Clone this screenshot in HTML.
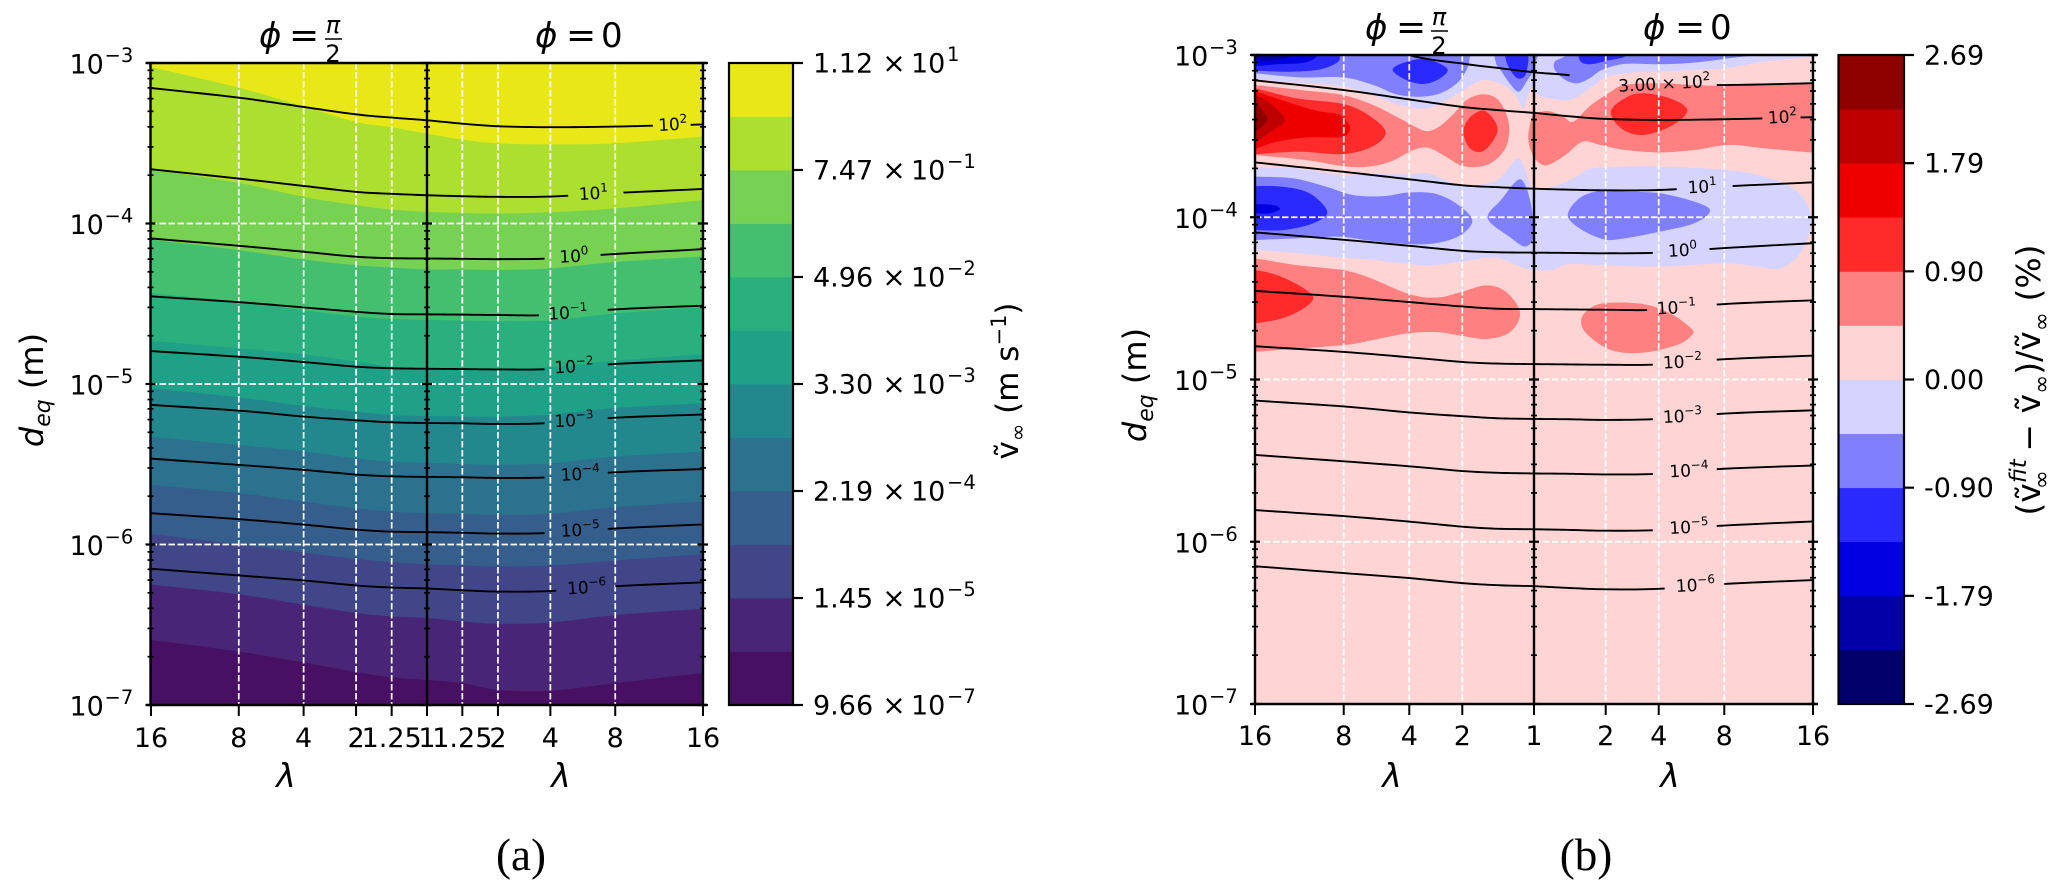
<!DOCTYPE html>
<html>
<head>
<meta charset="utf-8">
<title>Terminal velocity contour charts</title>
<style>
html,body{margin:0;padding:0;background:#fff;width:2067px;height:894px;overflow:hidden}
svg{position:absolute;left:0;top:0;font-family:"DejaVu Sans","Liberation Sans",sans-serif}
text{fill:#000}
</style>
</head>
<body>
<svg id="fig" xmlns="http://www.w3.org/2000/svg" width="2067" height="894" viewBox="0 0 2067 894">
  <rect x="0" y="0" width="2067" height="894" fill="#fff"/>
  <g id="panelA"></g>
  <g id="panelB"></g>

  <g>
    <text x="259" y="47" font-size="34" font-style="italic">ϕ</text>
    <text x="289" y="47" font-size="36">=</text>
    <text x="333" y="33" font-size="24" font-style="italic" text-anchor="middle">π</text>
    <line x1="325" x2="342" y1="39" y2="39" stroke="#000" stroke-width="1.6"/>
    <text x="333" y="62" font-size="24" text-anchor="middle">2</text>
  </g>
  <g>
    <text x="535" y="47" font-size="34" font-style="italic">ϕ</text>
    <text x="566" y="47" font-size="36">=</text>
    <text x="601" y="47" font-size="34">0</text>
  </g>
  <g>
    <text x="1365" y="39" font-size="34" font-style="italic">ϕ</text>
    <text x="1396" y="39" font-size="36">=</text>
    <text x="1439" y="25" font-size="24" font-style="italic" text-anchor="middle">π</text>
    <line x1="1431" x2="1448" y1="31" y2="31" stroke="#000" stroke-width="1.6"/>
    <text x="1439" y="54" font-size="24" text-anchor="middle">2</text>
  </g>
  <g>
    <text x="1643" y="39" font-size="34" font-style="italic">ϕ</text>
    <text x="1675" y="39" font-size="36">=</text>
    <text x="1710" y="39" font-size="34">0</text>
  </g>

  <text x="286" y="787" font-size="33" font-style="italic" text-anchor="middle">λ</text>
  <text x="561" y="787" font-size="33" font-style="italic" text-anchor="middle">λ</text>
  <text x="1392" y="787" font-size="33" font-style="italic" text-anchor="middle">λ</text>
  <text x="1670" y="787" font-size="33" font-style="italic" text-anchor="middle">λ</text>

  <text transform="translate(43,390) rotate(-90)" font-size="32" text-anchor="middle"><tspan font-style="italic">d</tspan><tspan font-style="italic" font-size="22" dy="7">eq</tspan><tspan dy="-7"> (m)</tspan></text>
  <text transform="translate(1146,385) rotate(-90)" font-size="32" text-anchor="middle"><tspan font-style="italic">d</tspan><tspan font-style="italic" font-size="22" dy="7">eq</tspan><tspan dy="-7"> (m)</tspan></text>

  <text transform="translate(1018,381) rotate(-90)" font-size="31" text-anchor="middle">ṽ<tspan font-size="21" dy="7">∞</tspan><tspan dy="-7"> (m s</tspan><tspan font-size="21" dy="-12">−1</tspan><tspan dy="12">)</tspan></text>
  <text transform="translate(2040,380) rotate(-90)" font-size="33" text-anchor="middle">(ṽ<tspan font-size="23" font-style="italic" dy="-14">fit</tspan><tspan font-size="23" dy="23" dx="-30">∞</tspan><tspan dy="-9" dx="8"> − ṽ</tspan><tspan font-size="23" dy="9">∞</tspan><tspan dy="-9">)/ṽ</tspan><tspan font-size="23" dy="9">∞</tspan><tspan dy="-9"> (%)</tspan></text>

  <text x="521" y="870" font-size="45" text-anchor="middle" style="font-family:'Liberation Serif',serif">(a)</text>
  <text x="1586" y="870" font-size="45" text-anchor="middle" style="font-family:'Liberation Serif',serif">(b)</text>
</svg>

<script>
/* ---------- shared axis data ---------- */
const lambdaTicksA = [-16, -8, -4, -2, -1.25, 1, 1.25, 2, 4, 8, 16];
const lambdaTicksB = [-16, -8, -4, -2, 1, 2, 4, 8, 16];
const yTickExponents = [-3, -4, -5, -6, -7];
const lineSamples = [-16, -8, -4, -2, -1.25, 1, 1.25, 2, 4, 8, 16];

/* iso-lines (log10 d_eq at each lambda sample) */
const line1e2 = [-3.156, -3.216, -3.274, -3.32, -3.34, -3.357, -3.378, -3.394, -3.4, -3.396, -3.383];
const line1e1 = [-3.662, -3.72, -3.766, -3.803, -3.815, -3.824, -3.83, -3.834, -3.832, -3.81, -3.785];
const line1e0 = [-4.093, -4.139, -4.176, -4.207, -4.216, -4.218, -4.22, -4.222, -4.218, -4.19, -4.16];
const line1em1 = [-4.454, -4.49, -4.523, -4.55, -4.564, -4.566, -4.568, -4.57, -4.57, -4.535, -4.512];
const line1em2 = [-4.795, -4.83, -4.863, -4.892, -4.902, -4.905, -4.907, -4.909, -4.907, -4.875, -4.853];
const line1em3 = [-5.13, -5.166, -5.203, -5.226, -5.239, -5.243, -5.245, -5.249, -5.243, -5.21, -5.19];
const line1em4 = [-5.465, -5.504, -5.535, -5.564, -5.575, -5.579, -5.581, -5.585, -5.581, -5.55, -5.53];
const line1em5 = [-5.805, -5.842, -5.876, -5.907, -5.92, -5.923, -5.927, -5.932, -5.928, -5.9, -5.875];
const line1em6 = [-6.151, -6.193, -6.224, -6.255, -6.268, -6.274, -6.285, -6.293, -6.29, -6.26, -6.236];
const line3e2 = [-2.7, -2.85, -3.0, -3.053, -3.08, -3.107, -3.125, -3.16, -3.18, -3.185, -3.174];

const lineLabelMantissa = ["", "", "", "", "", "", "", "", ""];
const lineLabelExponents = ["2", "1", "0", "−1", "−2", "−3", "−4", "−5", "−6"];
const lineLabelLambda = [12.9, 6.4, 5.1, 5.0, 5.2, 5.2, 5.4, 5.4, 5.8];
const lineLabelGap = [0.053, 0.08, 0.094, 0.11, 0.107, 0.107, 0.106, 0.106, 0.1];

/* ---------- panel (a): band boundaries, log10 d_eq at lambda samples ---------- */
const boundary01 = [-6.595, -6.667, -6.735, -6.795, -6.827, -6.844, -6.864, -6.906, -6.912, -6.864, -6.8];
const boundary02 = [-6.25, -6.31, -6.375, -6.427, -6.448, -6.458, -6.479, -6.494, -6.486, -6.44, -6.4];
const boundary03 = [-5.934, -6.0, -6.05, -6.09, -6.11, -6.123, -6.13, -6.137, -6.13, -6.1, -6.06];
const boundary04 = [-5.629, -5.68, -5.733, -5.774, -5.795, -5.805, -5.81, -5.815, -5.808, -5.768, -5.733];
const boundary05 = [-5.328, -5.38, -5.42, -5.463, -5.483, -5.49, -5.498, -5.502, -5.494, -5.452, -5.42];
const boundary06 = [-5.027, -5.083, -5.137, -5.172, -5.193, -5.2, -5.203, -5.203, -5.19, -5.15, -5.12];
const boundary07 = [-4.73, -4.778, -4.815, -4.86, -4.892, -4.905, -4.907, -4.91, -4.895, -4.855, -4.813];
const boundary08 = [-4.435, -4.487, -4.54, -4.58, -4.595, -4.6, -4.605, -4.608, -4.604, -4.56, -4.52];
const boundary09 = [-4.1, -4.166, -4.224, -4.26, -4.274, -4.286, -4.286, -4.29, -4.28, -4.24, -4.205];
const boundary10 = [-3.662, -3.747, -3.834, -3.886, -3.913, -3.927, -3.934, -3.938, -3.93, -3.906, -3.854];
const boundary11 = [-3.025, -3.154, -3.27, -3.367, -3.4, -3.44, -3.477, -3.5, -3.507, -3.5, -3.458];
const boundariesA = [boundary01, boundary02, boundary03, boundary04, boundary05, boundary06, boundary07, boundary08, boundary09, boundary10, boundary11];

const colorbarMantissaA = ["9.66", "1.45", "2.19", "3.30", "4.96", "7.47", "1.12"];
const colorbarExponentsA = ["−7", "−5", "−4", "−3", "−2", "−1", "1"];
const colorbarLabelsB = ["-2.69", "-1.79", "-0.90", "0.00", "0.90", "1.79", "2.69"];

/* ---------- panel (b): contour regions [lambda-axis coordinate (-1 = 16 left, 0 = 1, 1 = 16 right), log10 d_eq] ---------- */
const regionPaleTop = [[-1.05,-3.15],[-1,-3.15],[-.845,-3.171],[-.684,-3.196],[-.576,-3.247],[-.481,-3.309],[-.385,-3.329],[-.313,-3.278],[-.253,-3.216],[-.182,-3.155],[-.11,-3.185],[-.062,-3.257],[-.04,-3.332],[-.024,-3.26],[-.003,-3.19],[.0125,-3.246],[.075,-3.273],[.1375,-3.273],[.2,-3.205],[.2625,-3.133],[.35,-3.109],[.45,-3.102],[.575,-3.092],[.6875,-3.082],[.825,-3.041],[1,-3.01],[1.05,-3.0],[1.05,-2.9],[-1.05,-2.9]];
const regionPaleMid = [[-1.05,-3.69],[-1,-3.693],[-.852,-3.7],[-.685,-3.74],[-.588,-3.73],[-.447,-3.736],[-.379,-3.73],[-.265,-3.8],[-.146,-3.783],[-.086,-3.687],[-.056,-3.634],[-.029,-3.719],[-.003,-3.825],[.045,-3.821],[.129,-3.772],[.2,-3.702],[.272,-3.694],[.325,-3.688],[.45,-3.688],[.6875,-3.708],[.825,-3.75],[.9375,-3.832],[.994,-3.996],[.9625,-4.2],[.8875,-4.314],[.8,-4.304],[.6875,-4.284],[.45,-4.304],[.272,-4.297],[.129,-4.289],[.063,-4.325],[-.026,-4.318],[-.134,-4.25],[-.253,-4.272],[-.373,-4.297],[-.492,-4.28],[-.588,-4.26],[-.685,-4.25],[-.85,-4.22],[-1,-4.202],[-1.05,-4.2]];
const regionPurpleTopLeft = [[-1.05,-3.113],[-1,-3.113],[-.839,-3.138],[-.684,-3.138],[-.576,-3.185],[-.492,-3.243],[-.409,-3.257],[-.337,-3.237],[-.277,-3.175],[-.242,-3.093],[-.23,-3.011],[-.23,-2.95],[-1.05,-2.95]];
const regionPurpleNearMid = [[-.136,-3.05],[-.116,-3.103],[-.086,-3.177],[-.054,-3.226],[-.024,-3.156],[-.003,-3.1],[.007,-3.04],[.003,-2.98],[-.128,-2.98]];
const regionPurpleTopRight = [[.075,-3.04],[.075,-3.092],[.1125,-3.154],[.156,-3.174],[.2,-3.143],[.244,-3.092],[.325,-3.055],[.45,-3.057],[.575,-3.047],[.7,-3.02],[.8,-2.995],[.8,-2.95],[.1125,-2.95],[.1125,-3.004]];
const regionPurpleMidLeft = [[-1.05,-3.75],[-1,-3.75],[-.864,-3.76],[-.744,-3.812],[-.649,-3.863],[-.54,-3.87],[-.447,-3.847],[-.349,-3.857],[-.265,-3.932],[-.221,-4.023],[-.265,-4.112],[-.349,-4.159],[-.447,-4.166],[-.588,-4.144],[-.7,-4.12],[-.85,-4.13],[-1,-4.14],[-1.05,-4.14]];
const regionPurpleMidCentre = [[-.166,-4.006],[-.116,-3.889],[-.056,-3.768],[-.026,-3.825],[-.006,-3.974],[-.003,-4.123],[-.032,-4.18],[-.086,-4.123]];
const regionPurpleMidRight = [[.121,-3.986],[.1625,-3.883],[.2375,-3.836],[.325,-3.842],[.45,-3.852],[.575,-3.904],[.631,-3.959],[.575,-4.037],[.45,-4.089],[.325,-4.13],[.25,-4.136],[.1625,-4.068]];
const regionBlueTopLeft = [[-1.05,-3.097],[-1,-3.097],[-.875,-3.103],[-.767,-3.089],[-.702,-3.042],[-.698,-2.99],[-.698,-2.95],[-1.05,-2.95]];
const regionBlueTopBlob = [[-.507,-3.089],[-.457,-3.042],[-.385,-3.027],[-.311,-3.083],[-.337,-3.144],[-.397,-3.179],[-.463,-3.15]];
const regionBlueNearMid = [[-.098,-2.99],[-.092,-3.071],[-.062,-3.141],[-.036,-3.135],[-.024,-3.081],[-.026,-2.99]];
const regionBlueTopRight = [[.165,-3.035],[.2,-3.057],[.2625,-3.035],[.325,-3.01],[.33,-2.96],[.175,-2.96]];
const regionBlueMidLeft = [[-1.05,-3.808],[-1,-3.808],[-.9,-3.812],[-.804,-3.853],[-.741,-3.966],[-.792,-4.038],[-.9,-4.079],[-1,-4.079],[-1.05,-4.079]];
const regionDeepTopLeft = [[-1.05,-3.068],[-1,-3.068],[-.911,-3.056],[-.827,-3.048],[-.779,-3.011],[-.77,-2.95],[-1.05,-2.95]];
const regionDeepMidLeft = [[-1.05,-3.919],[-1,-3.919],[-.935,-3.925],[-.911,-3.949],[-.947,-3.976],[-1,-3.976],[-1.05,-3.976]];
const regionNavyTopLeft = [[-1.05,-3.035],[-1,-3.035],[-.923,-3.031],[-.875,-3.007],[-.86,-2.95],[-1.05,-2.95]];
const regionSalmonMain = [[-1.05,-3.185],[-1,-3.185],[-.815,-3.22],[-.684,-3.247],[-.576,-3.309],[-.481,-3.391],[-.415,-3.452],[-.379,-3.469],[-.337,-3.438],[-.289,-3.364],[-.242,-3.278],[-.188,-3.243],[-.134,-3.268],[-.098,-3.37],[-.089,-3.483],[-.11,-3.596],[-.17,-3.678],[-.253,-3.685],[-.319,-3.623],[-.379,-3.572],[-.433,-3.586],[-.516,-3.658],[-.6,-3.689],[-.684,-3.685],[-.815,-3.648],[-1,-3.617],[-1.05,-3.617]];
const regionSalmonRight = [[-.02,-3.485],[-.003,-3.358],[.009,-3.354],[.057,-3.347],[.105,-3.38],[.141,-3.411],[.2,-3.315],[.272,-3.23],[.325,-3.185],[.45,-3.174],[.575,-3.185],[.7,-3.189],[1,-3.174],[1.05,-3.174],[1.05,-3.605],[1,-3.602],[.825,-3.575],[.7,-3.554],[.575,-3.585],[.45,-3.6],[.325,-3.585],[.2375,-3.554],[.175,-3.534],[.1125,-3.616],[.05,-3.678],[.0125,-3.657],[-.0125,-3.585]];
const regionSalmonLower = [[-1.05,-4.254],[-1,-4.254],[-.852,-4.295],[-.685,-4.326],[-.588,-4.374],[-.447,-4.474],[-.349,-4.495],[-.265,-4.463],[-.17,-4.42],[-.098,-4.463],[-.05,-4.59],[-.086,-4.708],[-.17,-4.75],[-.265,-4.729],[-.349,-4.708],[-.455,-4.716],[-.588,-4.76],[-.685,-4.788],[-1,-4.829],[-1.05,-4.829]];
const regionSalmonLowerRight = [[.169,-4.633],[.194,-4.571],[.25,-4.53],[.3875,-4.534],[.4875,-4.592],[.5625,-4.684],[.566,-4.725],[.5125,-4.787],[.3875,-4.835],[.275,-4.818],[.1875,-4.716]];
const regionRedMain = [[-1.05,-3.206],[-1,-3.206],[-.851,-3.267],[-.684,-3.302],[-.594,-3.37],[-.532,-3.473],[-.576,-3.561],[-.684,-3.611],[-.839,-3.596],[-1,-3.611],[-1.05,-3.611]];
const regionRedSecond = [[-.253,-3.475],[-.23,-3.385],[-.179,-3.343],[-.136,-3.422],[-.136,-3.496],[-.182,-3.592],[-.23,-3.575]];
const regionRedThird = [[.275,-3.349],[.325,-3.267],[.3875,-3.236],[.4875,-3.267],[.55,-3.343],[.4875,-3.441],[.3875,-3.493],[.3125,-3.452]];
const regionRedLower = [[-1.05,-4.32],[-1,-4.325],[-.93,-4.352],[-.87,-4.395],[-.815,-4.45],[-.791,-4.5],[-.826,-4.562],[-.903,-4.623],[-1,-4.654],[-1.05,-4.66]];
const regionBrightMain = [[-1.05,-3.226],[-1,-3.226],[-.887,-3.288],[-.779,-3.344],[-.696,-3.37],[-.66,-3.448],[-.69,-3.504],[-.815,-3.508],[-.923,-3.535],[-1,-3.576],[-1.05,-3.576]];
const regionCrimsonMain = [[-1.05,-3.247],[-1,-3.247],[-.946,-3.298],[-.893,-3.397],[-.935,-3.463],[-.982,-3.52],[-1,-3.535],[-1.05,-3.535]];
const regionMaroonMain = [[-1.05,-3.298],[-1,-3.298],[-.97,-3.35],[-.956,-3.397],[-.976,-3.442],[-1,-3.467],[-1.05,-3.467]];

/* level index into colorsB, drawn in order */
const regionLevels = [5,5,4,4,4,4,4,4,3,3,3,3,3,2,2,1,7,7,7,7,8,8,8,8,9,10,11];
const regionShapes = [regionPaleTop,regionPaleMid,regionPurpleTopLeft,regionPurpleNearMid,regionPurpleTopRight,regionPurpleMidLeft,regionPurpleMidCentre,regionPurpleMidRight,regionBlueTopLeft,regionBlueTopBlob,regionBlueNearMid,regionBlueTopRight,regionBlueMidLeft,regionDeepTopLeft,regionDeepMidLeft,regionNavyTopLeft,regionSalmonMain,regionSalmonRight,regionSalmonLower,regionSalmonLowerRight,regionRedMain,regionRedSecond,regionRedThird,regionRedLower,regionBrightMain,regionCrimsonMain,regionMaroonMain];

const colorsA = ["#471063","#482576","#404688","#355e8d","#2c728e","#23888e","#1fa187","#2ab07f","#44bf70","#77d153","#addf30","#e8e819"];
const colorsB = ["#000068","#0000a4","#0000e0","#2a2aff","#8080ff","#d4d4ff","#ffd4d4","#ff8080","#ff2a2a","#ef0000","#bf0000","#8f0000"];

/* ---------- scales ---------- */
const plotA = {left:150.5, mid:427, right:703, top:63, bottom:705, barL:729, barR:793};
const plotB = {left:1255, mid:1534, right:1813, top:55, bottom:704, barL:1838.5, barR:1904};
const SVGNS = "http://www.w3.org/2000/svg";
const INK = "#000";

function lambdaToAxis(signed) {
  const knotsLog = [0, Math.log2(1.25), 1, 2, 3, 4];
  const knotsPos = [0, .128, .257, .447, .682, 1];
  const L = Math.log2(Math.abs(signed));
  let k = 0;
  while (k < knotsLog.length - 2 && L > knotsLog[k + 1]) k++;
  const t = (L - knotsLog[k]) / (knotsLog[k + 1] - knotsLog[k]);
  const pos = knotsPos[k] + t * (knotsPos[k + 1] - knotsPos[k]);
  return signed < 0 ? -pos : pos;
}
function xAt(p, a) { return p.mid + a * (p.right - p.mid); }
function xLambda(p, signed) { return xAt(p, lambdaToAxis(signed)); }
function yLog(p, v) { return p.top + (-3 - v) / 4 * (p.bottom - p.top); }

function add(parent, tag, attrs) {
  const el = document.createElementNS(SVGNS, tag);
  for (const k in attrs) el.setAttribute(k, attrs[k]);
  parent.appendChild(el);
  return el;
}

/* Catmull-Rom sampling */
function smooth(pts, closed) {
  const n = pts.length, out = [], steps = 10;
  const at = i => closed ? pts[(i + n) % n] : pts[Math.max(0, Math.min(n - 1, i))];
  const last = closed ? n : n - 1;
  for (let i = 0; i < last; i++) {
    const p0 = at(i - 1), p1 = at(i), p2 = at(i + 1), p3 = at(i + 2);
    for (let s = 0; s < steps; s++) {
      const t = s / steps, t2 = t * t, t3 = t2 * t;
      out.push([
        .5 * (2 * p1[0] + (p2[0] - p0[0]) * t + (2 * p0[0] - 5 * p1[0] + 4 * p2[0] - p3[0]) * t2 + (3 * p1[0] - p0[0] - 3 * p2[0] + p3[0]) * t3),
        .5 * (2 * p1[1] + (p2[1] - p0[1]) * t + (2 * p0[1] - 5 * p1[1] + 4 * p2[1] - p3[1]) * t2 + (3 * p1[1] - p0[1] - 3 * p2[1] + p3[1]) * t3)
      ]);
    }
  }
  if (!closed) out.push(pts[n - 1]);
  return out;
}
function toD(pts, close) {
  return "M" + pts.map(q => q[0].toFixed(2) + " " + q[1].toFixed(2)).join("L") + (close ? "Z" : "");
}

function drawClip(svgDefsId, p) {
  const defs = add(document.getElementById("fig"), "defs", {});
  const cp = add(defs, "clipPath", {id: svgDefsId});
  add(cp, "rect", {x: p.left, y: p.top, width: p.right - p.left, height: p.bottom - p.top});
}

function drawGridAndLines(root, p, ticks, lines, labelsCfg, clipId) {
  const grid = add(root, "g", {});
  
  
  ticks.forEach(t => {
    if (Math.abs(t) === 16 || t === 1) return;
    const x = xLambda(p, t);
    const g = add(grid, "line", {x1: x, x2: x, y1: p.top, y2: p.bottom, stroke: "#fff", "stroke-width": 1.7, "stroke-dasharray": "6.5 2.5"});
    
    
  });
  [-4, -5, -6].forEach(e => {
    const y = yLog(p, e);
    const g = add(grid, "line", {x1: p.left, x2: p.right, y1: y, y2: y, stroke: "#fff", "stroke-width": 1.7, "stroke-dasharray": "6.5 2.5"});
    
    
  });

  lines.forEach((vals, i) => {
    const cfg = labelsCfg[i];
    const pts = lineSamples.map((l, j) => [xLambda(p, l), yLog(p, vals[j])]);
    const curve = smooth(pts, false);
    const lx = xLambda(p, cfg.lambda);
    const x0 = lx - cfg.gapLeft * (p.right - p.mid);
    const x1 = lx + cfg.gapRight * (p.right - p.mid);
    const leftPart = curve.filter(q => q[0] < x0);
    const rightPart = curve.filter(q => q[0] > x1);
    const d = (leftPart.length > 1 ? toD(leftPart) : "") + (rightPart.length > 1 ? toD(rightPart) : "");
    const path = add(root, "path", {d: d, fill: "none", stroke: "#000", "stroke-width": 1.9, "clip-path": "url(#" + clipId + ")"});
    
    
    let best = curve[0];
    curve.forEach(q => { if (Math.abs(q[0] - lx) < Math.abs(best[0] - lx)) best = q; });
    const label = add(root, "text", {transform: "translate(" + best[0].toFixed(1) + "," + (best[1] + 5 + cfg.shift).toFixed(1) + ") rotate(-3)", "font-size": 17, "text-anchor": "middle"});
    
    
    label.appendChild(document.createTextNode(cfg.prefix + "10"));
    const sup = add(label, "tspan", {"font-size": 12, dy: -7});
    sup.textContent = cfg.exp;
  });
}

function drawAxes(root, p, ticks, xBase) {
  const axes = add(root, "g", {});
  
  
  [p.left, p.mid, p.right].forEach(x => {
    const s = add(axes, "line", {x1: x, x2: x, y1: p.top, y2: p.bottom, stroke: INK, "stroke-width": 2.4});
    
    
    yTickExponents.forEach(e => {
      const y = yLog(p, e);
      const t = add(axes, "line", {x1: x - 5, x2: x + 5, y1: y, y2: y, stroke: INK, "stroke-width": 2.2});
      
      
      if (e > -7) {
        for (let m = 2; m <= 9; m++) {
          const ym = yLog(p, e - 1 + Math.log10(m));
          const mt = add(axes, "line", {x1: x - 3, x2: x + 3, y1: ym, y2: ym, stroke: INK, "stroke-width": 1.7});
          
          
        }
      }
    });
  });
  [p.top, p.bottom].forEach(y => {
    const s = add(axes, "line", {x1: p.left - 4, x2: p.right + 4, y1: y, y2: y, stroke: INK, "stroke-width": 2.4});
    
    
  });
  yTickExponents.forEach(e => {
    const y = yLog(p, e);
    const base = add(axes, "text", {x: p.left - 81, y: y + 10.5, "font-size": 27});
    
    
    base.textContent = "10";
    const ex = add(axes, "text", {x: p.left - 46, y: y - 1, "font-size": 19.5});
    
    
    ex.textContent = "−" + Math.abs(e);
  });
  ticks.forEach(t => {
    const x = xLambda(p, t);
    const tk = add(axes, "line", {x1: x, x2: x, y1: p.bottom, y2: p.bottom + 11, stroke: INK, "stroke-width": 2});
    
    
    const lab = add(axes, "text", {x: x, y: xBase, "font-size": 27, "text-anchor": "middle"});
    
    
    lab.textContent = String(Math.abs(t));
  });
}

function drawColorbarFrame(root, p, colors) {
  const bar = add(root, "g", {});
  
  
  const h = (p.bottom - p.top) / colors.length;
  colors.forEach((c, i) => {
    const r = add(bar, "rect", {x: p.barL, y: p.bottom - (i + 1) * h, width: p.barR - p.barL, height: h + .4, fill: c});
    
    
  });
  const frame = add(bar, "rect", {x: p.barL, y: p.top, width: p.barR - p.barL, height: p.bottom - p.top, fill: "none", stroke: INK, "stroke-width": 2.2});
  
  
  for (let i = 0; i <= 6; i++) {
    const y = p.bottom - i * 2 * h;
    const t = add(bar, "line", {x1: p.barR, x2: p.barR + 10, y1: y, y2: y, stroke: INK, "stroke-width": 2.2});
    
    
  }
  return {bar: bar, step: 2 * h};
}

/* ---------- panel A ---------- */
const rootA = document.getElementById("panelA");
drawClip("clipA", plotA);
const fillsA = add(rootA, "g", {"clip-path": "url(#clipA)"});


const baseA = add(fillsA, "rect", {x: plotA.left, y: plotA.top, width: plotA.right - plotA.left, height: plotA.bottom - plotA.top, fill: colorsA[0]});


boundariesA.forEach((vals, i) => {
  const pts = lineSamples.map((l, j) => [xLambda(plotA, l), yLog(plotA, vals[j])]);
  const curve = smooth(pts, false);
  curve.push([plotA.right + 3, curve[curve.length - 1][1]], [plotA.right + 3, plotA.top - 3], [plotA.left - 3, plotA.top - 3], [plotA.left - 3, curve[0][1]]);
  const band = add(fillsA, "path", {d: toD(curve, true), fill: colorsA[i + 1]});
  
  
});
const baseLines = [line1e2, line1e1, line1e0, line1em1, line1em2, line1em3, line1em4, line1em5, line1em6];
const baseLabels = baseLines.map((_, i) => ({lambda: lineLabelLambda[i], gapLeft: lineLabelGap[i], gapRight: lineLabelGap[i], prefix: lineLabelMantissa[i], exp: lineLabelExponents[i], shift: 0}));
drawGridAndLines(rootA, plotA, lambdaTicksA, baseLines, baseLabels, "clipA");
drawAxes(rootA, plotA, lambdaTicksA, 747);
const barA = drawColorbarFrame(rootA, plotA, colorsA);
colorbarMantissaA.forEach((m, i) => {
  const y = plotA.bottom - i * barA.step;
  const x = plotA.barR;
  const t1 = add(barA.bar, "text", {x: x + 20, y: y + 9.5, "font-size": 27});
  
  
  t1.textContent = m;
  const t2 = add(barA.bar, "text", {x: x + 101, y: y + 9.5, "font-size": 28, "text-anchor": "middle"});
  
  
  t2.textContent = "×";
  const t3 = add(barA.bar, "text", {x: x + 118, y: y + 9.5, "font-size": 27});
  
  
  t3.textContent = "10";
  const t4 = add(barA.bar, "text", {x: x + 154, y: y - 2, "font-size": 19.5});
  
  
  t4.textContent = colorbarExponentsA[i];
});

/* ---------- panel B ---------- */
const rootB = document.getElementById("panelB");
drawClip("clipB", plotB);
const fillsB = add(rootB, "g", {"clip-path": "url(#clipB)"});


const baseB = add(fillsB, "rect", {x: plotB.left, y: plotB.top, width: plotB.right - plotB.left, height: plotB.bottom - plotB.top, fill: colorsB[6]});


regionShapes.forEach((shape, i) => {
  const pts = shape.map(v => [xAt(plotB, v[0]), yLog(plotB, v[1])]);
  const region = add(fillsB, "path", {d: toD(smooth(pts, true), true), fill: colorsB[regionLevels[i]]});
  
  
});
const linesB = [line3e2].concat(baseLines);
const labelsB = [{lambda: 4.2, gapLeft: .33, gapRight: .19, prefix: "3.00 × ", exp: "2", shift: 0}].concat(baseLabels);
drawGridAndLines(rootB, plotB, lambdaTicksB, linesB, labelsB, "clipB");
drawAxes(rootB, plotB, lambdaTicksB, 745);
const barB = drawColorbarFrame(rootB, plotB, colorsB);
colorbarLabelsB.forEach((s, i) => {
  const y = plotB.bottom - i * barB.step;
  const t = add(barB.bar, "text", {x: plotB.barR + 20, y: y + 9.5, "font-size": 27});
  
  
  t.textContent = s;
});
</script>
</body>
</html>
